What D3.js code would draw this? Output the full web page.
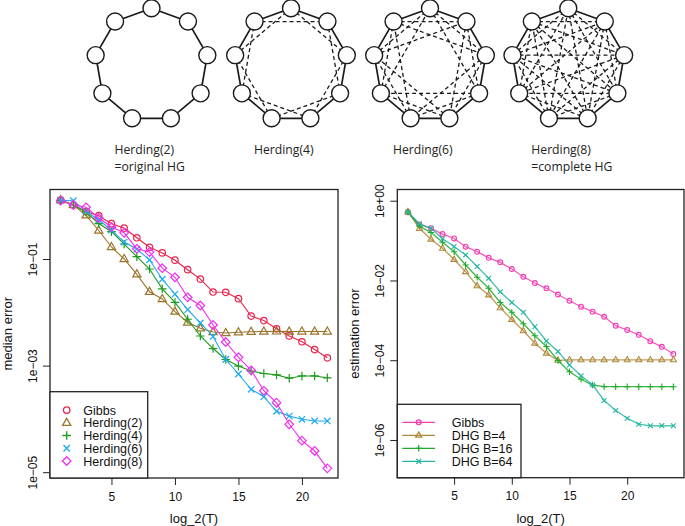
<!DOCTYPE html>
<html><head><meta charset="utf-8">
<script src="https://cdn.jsdelivr.net/npm/d3@7"></script>
<style>body{margin:0;background:#fff}svg text{font-family:"Liberation Sans",Arial,sans-serif}</style>
</head><body><svg id="c" width="685" height="526"></svg>
<script>
// ---------- top diagrams ----------
const graphLabels = [["Herding(2)", "=original HG"], ["Herding(4)"], ["Herding(6)"], ["Herding(8)", "=complete HG"]];
const graphDistances = [[1], [1, 2], [1, 2, 3], [1, 2, 3, 4]];
const nodeCount = 9;

// ---------- left panel: median error ----------
const xLeft = d3.range(1, 23);
const leftNames = ["Gibbs", "Herding(2)", "Herding(4)", "Herding(6)", "Herding(8)"];
const gibbsL = [1.28, 1.03, 0.77, 0.65, 0.46, 0.38, 0.25, 0.166, 0.13, 0.095, 0.063, 0.042, 0.024, 0.0237, 0.018, 0.0085, 0.0070, 0.0049, 0.0036, 0.0028, 0.0020, 0.0014];
const herd2 = [1.28, 1.03, 0.66, 0.343, 0.168, 0.1, 0.0516, 0.0243, 0.0178, 0.0103, 0.00644, 0.0050, 0.00427, 0.00409, 0.00421, 0.00432, 0.00436, 0.00438, 0.00436, 0.00437, 0.00436, 0.00436];
const herd4 = [1.26, 1.03, 0.762, 0.463, 0.325, 0.191, 0.111, 0.0649, 0.0276, 0.0154, 0.0074, 0.00359, 0.00209, 0.0013, 0.00098, 0.00079, 0.00071, 0.00067, 0.00058, 0.00064, 0.00064, 0.00059];
const herd6 = [1.26, 1.24, 0.789, 0.54, 0.35, 0.208, 0.153, 0.0966, 0.0418, 0.0219, 0.0112, 0.0063, 0.00352, 0.0013, 0.000696, 0.000359, 0.000261, 0.000139, 0.000113, 0.0000982, 0.0000914, 0.0000914];
const herd8 = [1.24, 1.03, 0.933, 0.588, 0.398, 0.31, 0.155, 0.135, 0.0672, 0.0454, 0.0191, 0.0134, 0.00578, 0.00277, 0.00143, 0.000817, 0.000338, 0.000201, 0.0000792, 0.000039, 0.000025, 0.0000118];
const leftYTicks = [1e-1, 1e-3, 1e-5];
const leftYTickLabels = ["1e\u221201", "1e\u221203", "1e\u221205"];

// ---------- right panel: estimation error ----------
const xRight = d3.range(1, 25);
const rightNames = ["Gibbs", "DHG B=4", "DHG B=16", "DHG B=64"];
const gibbsR = [0.512, 0.253, 0.203, 0.146, 0.113, 0.0703, 0.0526, 0.037, 0.0285, 0.0194, 0.0124, 0.00863, 0.00636, 0.00444, 0.0031, 0.00219, 0.00165, 0.00123, 0.000734, 0.000573, 0.000434, 0.0003, 0.000217, 0.000143];
const dhg4 = [0.53, 0.2, 0.108, 0.064, 0.0336, 0.0166, 0.00735, 0.00432, 0.00206, 0.00105, 0.000547, 0.000267, 0.00015, 0.0000995, 0.000102, 0.000102, 0.000102, 0.000102, 0.000102, 0.000102, 0.000102, 0.000102, 0.000102, 0.000102];
const dhg16 = [0.521, 0.23, 0.16, 0.091, 0.0526, 0.0244, 0.012, 0.00636, 0.0028, 0.00159, 0.000824, 0.00041, 0.000221, 0.0000984, 0.0000515, 0.0000333, 0.0000239, 0.0000217, 0.0000217, 0.0000217, 0.0000217, 0.0000217, 0.0000217, 0.0000217];
const dhg64 = [0.521, 0.265, 0.203, 0.111, 0.0711, 0.0435, 0.0224, 0.0113, 0.00522, 0.0028, 0.00159, 0.000689, 0.000303, 0.000166, 0.0000759, 0.0000406, 0.0000239, 0.0000098, 0.00000548, 0.0000035, 0.00000249, 0.00000227, 0.00000229, 0.00000227];
const rightYTicks = [1, 1e-2, 1e-4, 1e-6];
const rightYTickLabels = ["1e+00", "1e\u221202", "1e\u221204", "1e\u221206"];

const xTicks = [5, 10, 15, 20];

// ---------- drawing ----------
const svg = d3.select("#c");

// top graphs
const gcx = [151.5, 291, 430, 568.3], gcy = 65, R = 56.7, nr = 8.5;
graphDistances.forEach((dists, gi) => {
  const g = svg.append("g");
  const nodes = d3.range(nodeCount).map(i => {
    const a = (-90 + i * 360 / nodeCount) * Math.PI / 180;
    return [gcx[gi] + R * Math.cos(a), gcy + R * Math.sin(a)];
  });
  dists.forEach(d => {
    for (let i = 0; i < nodeCount; i++) {
      const j = (i + d) % nodeCount;
      g.append("line").attr("x1", nodes[i][0]).attr("y1", nodes[i][1])
        .attr("x2", nodes[j][0]).attr("y2", nodes[j][1])
        .attr("stroke", "#1a1a1a").attr("stroke-width", d === 1 ? 1.7 : 1.3)
        .attr("stroke-dasharray", d === 1 ? null : "4,3");
    }
  });
  g.selectAll("circle").data(nodes).join("circle")
    .attr("cx", d => d[0]).attr("cy", d => d[1]).attr("r", nr)
    .attr("fill", "#fff").attr("stroke", "#1a1a1a").attr("stroke-width", 1.4);
  graphLabels[gi].forEach((t, k) => {
    svg.append("text").attr("x", gcx[gi] - 37).attr("y", 154 + k * 16.6)
      .style("font-family", "'Open Sans', sans-serif").style("font-size", "12.2px")
      .attr("fill", "#222").text(t);
  });
});

function markerPath(shape, s) {
  switch (shape) {
    case "triangle": return `M0,${-s * 1.05}L${s * 0.95},${s * 0.6}L${-s * 0.95},${s * 0.6}Z`;
    case "plus": return `M${-s},0H${s}M0,${-s}V${s}`;
    case "x": return `M${-s * 0.75},${-s * 0.75}L${s * 0.75},${s * 0.75}M${-s * 0.75},${s * 0.75}L${s * 0.75},${-s * 0.75}`;
    case "diamond": return `M0,${-s}L${s},0L0,${s}L${-s},0Z`;
  }
}
function drawMarker(g, shape, x, y, s, color, sw) {
  if (shape === "circle") {
    g.append("circle").attr("cx", x).attr("cy", y).attr("r", s * 0.75)
      .attr("fill", "none").attr("stroke", color).attr("stroke-width", sw);
  } else {
    g.append("path").attr("transform", `translate(${x},${y})`).attr("d", markerPath(shape, s))
      .attr("fill", "none").attr("stroke", color).attr("stroke-width", sw);
  }
}

function panel(opt) {
  const x = d3.scaleLinear().domain(opt.xDomain).range([opt.left, opt.right]);
  const y = d3.scaleLog().domain(opt.yDomain).range([opt.bottom, opt.top]);
  const g = svg.append("g");
  const ax = g.append("g").attr("transform", `translate(0,${opt.bottom})`)
    .call(d3.axisBottom(x).tickValues(xTicks).tickSize(7).tickPadding(7).tickFormat(d3.format("d")));
  const ay = g.append("g").attr("transform", `translate(${opt.left},0)`)
    .call(d3.axisLeft(y).tickValues(opt.yTicks).tickSize(7).tickFormat((d, i) => opt.yTickLabels[i]));
  [ax, ay].forEach(a => {
    a.select(".domain").remove();
    a.selectAll("line").attr("stroke", "#222");
    a.selectAll("text").style("font-size", "12px").style("font-family", "'Liberation Sans',Arial,sans-serif").attr("fill", "#111");
  });
  ay.selectAll("text").attr("transform", "rotate(-90)").attr("x", 0).attr("y", -13).attr("dy", 0).style("text-anchor", "middle");
  opt.series.forEach(s => {
    const line = d3.line().x((d, i) => x(opt.xs[i])).y(d => y(d));
    g.append("path").datum(s.values).attr("d", line).attr("fill", "none")
      .attr("stroke", s.color).attr("stroke-width", opt.lw).attr("stroke-opacity", opt.lineOpacity);
    s.values.forEach((v, i) => drawMarker(g, s.shape, x(opt.xs[i]), y(v), opt.ms, s.color, opt.msw));
  });
  g.append("rect").attr("x", opt.left).attr("y", opt.top).attr("width", opt.right - opt.left)
    .attr("height", opt.bottom - opt.top).attr("fill", "none").attr("stroke", "#222").attr("stroke-width", 1.3);
  g.append("text").attr("x", (opt.left + opt.right) / 2).attr("y", 523).attr("text-anchor", "middle")
    .style("font-size", "13px").attr("fill", "#111").text("log_2(T)");
  g.append("text").attr("transform", `translate(${opt.ytx},${(opt.top + opt.bottom) / 2}) rotate(-90)`)
    .attr("text-anchor", "middle").style("font-size", "13px").attr("fill", "#111").text(opt.ytitle);
  const L = opt.legend;
  g.append("rect").attr("x", opt.left).attr("y", L.top).attr("width", L.right - opt.left)
    .attr("height", opt.bottom - L.top).attr("fill", "#fff").attr("stroke", "#222").attr("stroke-width", 1.3);
  opt.series.forEach((s, k) => {
    const yy = L.y0 + k * L.dy;
    if (L.lines) {
      g.append("line").attr("x1", L.lx1).attr("x2", L.lx2).attr("y1", yy).attr("y2", yy)
        .attr("stroke", s.color).attr("stroke-width", opt.lw);
    }
    drawMarker(g, s.shape, L.mx, yy, opt.ms, s.color, 1.3);
    g.append("text").attr("x", L.tx).attr("y", yy + 4.5).style("font-size", "12.5px").attr("fill", "#111").text(s.name);
  });
}

panel({
  left: 50, right: 338, top: 189.5, bottom: 478,
  xDomain: [0.16, 22.84], yDomain: [Math.pow(10, -5.109), Math.pow(10, 0.304)],
  xs: xLeft, yTicks: leftYTicks, yTickLabels: leftYTickLabels,
  ytitle: "median error", ytx: 12, lw: 1.1, lineOpacity: 1, ms: 4.3, msw: 1.2,
  series: [
    { name: leftNames[0], values: gibbsL, color: "#E8244C", shape: "circle" },
    { name: leftNames[1], values: herd2, color: "#9A7428", shape: "triangle" },
    { name: leftNames[2], values: herd4, color: "#1E9A1E", shape: "plus" },
    { name: leftNames[3], values: herd6, color: "#1EAAF0", shape: "x" },
    { name: leftNames[4], values: herd8, color: "#F22EF0", shape: "diamond" }
  ],
  legend: { top: 391.7, right: 147.7, y0: 410, dy: 12.75, mx: 66.7, tx: 83.3, lines: false }
});

panel({
  left: 397.3, right: 684, top: 189.5, bottom: 477.7,
  xDomain: [0.08, 24.92], yDomain: [Math.pow(10, -6.946), Math.pow(10, 0.281)],
  xs: xRight, yTicks: rightYTicks, yTickLabels: rightYTickLabels,
  ytitle: "estimation error", ytx: 359, lw: 1.3, lineOpacity: 0.85, ms: 3.2, msw: 1.1,
  series: [
    { name: rightNames[0], values: gibbsR, color: "#F23CB0", shape: "circle" },
    { name: rightNames[1], values: dhg4, color: "#B08A3A", shape: "triangle" },
    { name: rightNames[2], values: dhg16, color: "#1FAA2A", shape: "plus" },
    { name: rightNames[3], values: dhg64, color: "#22B5A0", shape: "x" }
  ],
  legend: { top: 404.3, right: 521, y0: 422.3, dy: 13, lx1: 402.3, lx2: 435, mx: 418.7, tx: 451.7, lines: true }
});
</script></body></html>
